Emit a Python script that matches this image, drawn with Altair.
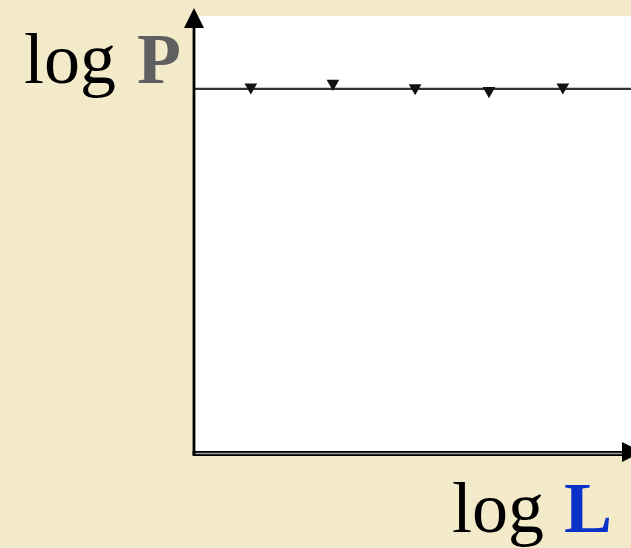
import altair as alt
import pandas as pd

# Measured points: log L against log P (flat relation)
log_l = [1.30, 3.18, 5.06, 6.75, 8.44]
log_p = [5.00, 5.05, 4.99, 4.95, 5.00]
fit_level = 5.0

BEIGE = "#F2EAC8"
SERIF = "Liberation Serif"

pts = pd.DataFrame({"logL": log_l, "logP": log_p})
fit = pd.DataFrame({"logP": [fit_level]})

xs = alt.Scale(domain=[0, 10], nice=False, zero=False)
ys = alt.Scale(domain=[0, 6], nice=False, zero=False)

W, H = 437, 437

# constant-P reference line
fit_line = alt.Chart(fit).mark_rule(color="#333333", strokeWidth=2.2).encode(
    y=alt.Y("logP:Q", scale=ys, axis=None),
    x=alt.value(0),
    x2=alt.value(W),
)

markers = alt.Chart(pts).mark_point(
    shape="M-1,-0.85L1,-0.85L0,0.9Z", filled=True, size=160,
    color="#111111", opacity=1,
).encode(
    x=alt.X("logL:Q", scale=xs, axis=None),
    y=alt.Y("logP:Q", scale=ys, axis=None),
)

# hand-drawn style axes with arrowheads
y_axis_line = alt.Chart(fit).mark_rule(color="black", strokeWidth=2.8).encode(
    x=alt.value(0), y=alt.value(10), y2=alt.value(H + 2)
)
x_axis_dark = alt.Chart(fit).mark_rule(color="black", strokeWidth=4.8).encode(
    x=alt.value(-1.4), x2=alt.value(430), y=alt.value(H + 0.5)
)
x_axis_light = alt.Chart(fit).mark_rule(color="#a0a0a0", strokeWidth=1.6).encode(
    x=alt.value(1.5), x2=alt.value(430), y=alt.value(H + 0.5)
)
arrow_up = alt.Chart(fit).mark_point(
    shape="M0,-1L1,1L-1,1Z", filled=True, size=400, color="black", opacity=1
).encode(x=alt.value(0), y=alt.value(2))
arrow_right = alt.Chart(fit).mark_point(
    shape="M1,0L-1,-1L-1,1Z", filled=True, size=400, color="black", opacity=1
).encode(x=alt.value(438), y=alt.value(H - 1))

def label(txt, x, y, color, bold=False):
    return alt.Chart(fit).mark_text(
        text=txt, font=SERIF, fontSize=72, align="left", baseline="alphabetic",
        color=color, fontWeight="bold" if bold else "normal",
    ).encode(x=alt.value(x), y=alt.value(y))

labels = [
    label("log", -170, 67, "black"),
    label("P", -57, 67, "#5f5f5f", bold=True),
    label("log", 258, 516, "black"),
    label("L", 370, 516, "#0a31c8", bold=True),
]

chart = alt.layer(
    fit_line, markers, y_axis_line, x_axis_dark, x_axis_light,
    arrow_up, arrow_right, *labels,
).properties(
    width=W, height=H, background=BEIGE,
    padding={"left": 194, "top": 16, "right": 0, "bottom": 95},
    autosize=alt.AutoSizeParams(type="none"),
).configure_view(fill="white", stroke=None)

chart.save("out.html", embed_options={"renderer": "svg", "actions": False})
